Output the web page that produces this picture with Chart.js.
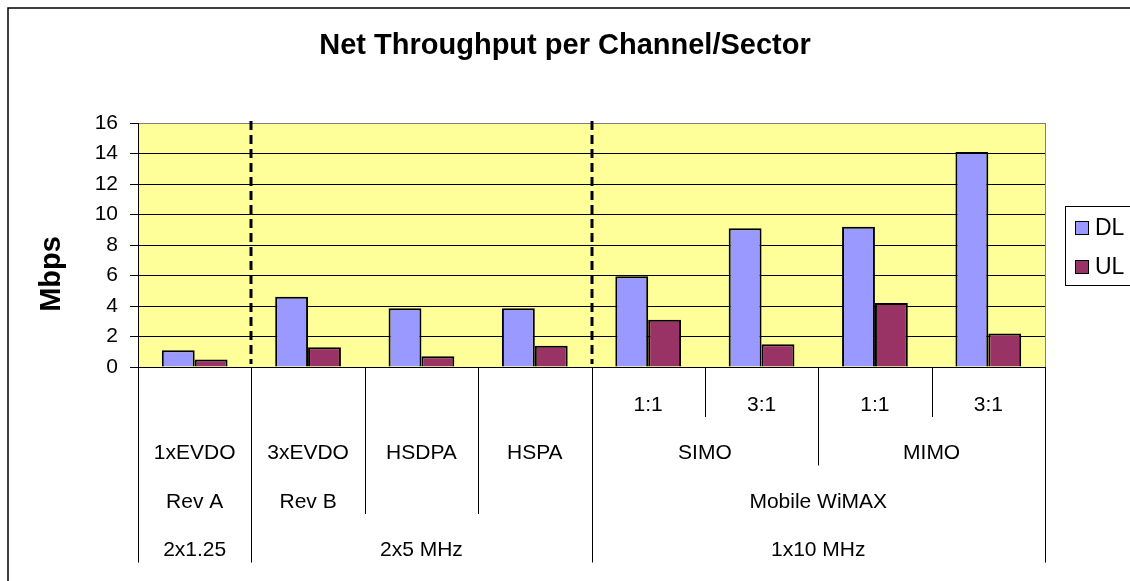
<!DOCTYPE html>
<html><head><meta charset="utf-8">
<script src="https://cdn.jsdelivr.net/npm/chart.js@4"></script>
<style>html,body{margin:0;padding:0;background:#fff;overflow:hidden}</style>
</head><body>
<canvas id="c" width="1130" height="581"></canvas>
<script>
const categories = ['1xEVDO Rev A','3xEVDO Rev B','HSDPA','HSPA','SIMO 1:1','SIMO 3:1','MIMO 1:1','MIMO 3:1'];
const dlValues = [1.1, 4.6, 3.85, 3.85, 5.95, 9.1, 9.2, 14.1];
const ulValues = [0.5, 1.3, 0.7, 1.4, 3.1, 1.5, 4.2, 2.2];
const seriesNames = ['DL', 'UL'];
const yMin = 0, yMax = 16, yStep = 2;
// multi-level category labels: [label, span]
const ratioGroups = [['',1],['',1],['',1],['',1],['1:1',1],['3:1',1],['1:1',1],['3:1',1]];
const techGroups = [['1xEVDO',1],['3xEVDO',1],['HSDPA',1],['HSPA',1],['SIMO',2],['MIMO',2]];
const revGroups = [['Rev A',1],['Rev B',1],['',1],['',1],['Mobile WiMAX',4]];
const bandGroups = [['2x1.25',1],['2x5 MHz',3],['1x10 MHz',4]];
const dashedAfter = [0, 3];

const FONT = "'Liberation Sans', Arial, sans-serif";
const levels = [ratioGroups, techGroups, revGroups, bandGroups];

const customPlugin = {
  id: 'custom',
  beforeDraw(chart) {
    const {ctx, chartArea: a} = chart;
    ctx.save();
    ctx.fillStyle = '#fff';
    ctx.fillRect(0, 0, chart.width, chart.height);
    ctx.fillStyle = '#FFFF99';
    ctx.fillRect(a.left, a.top, a.right - a.left, a.bottom - a.top);
    ctx.strokeStyle = '#000';
    ctx.lineWidth = 1.5;
    ctx.strokeRect(8, 8, 1400, 900);
    ctx.restore();
  },
  afterDraw(chart) {
    const {ctx, chartArea: a} = chart;
    const n = categories.length;
    const w = (a.right - a.left) / n;
    ctx.save();
    // plot right border
    ctx.strokeStyle = '#808080';
    ctx.lineWidth = 1;
    ctx.beginPath();
    ctx.moveTo(a.right + 0.5, a.top);
    ctx.lineTo(a.right + 0.5, a.bottom);
    ctx.stroke();
    // dashed dividers
    ctx.strokeStyle = '#000';
    ctx.lineWidth = 3;
    ctx.setLineDash([9, 5]);
    dashedAfter.forEach(i => {
      const x = Math.round(a.left + (i + 1) * w);
      ctx.beginPath();
      ctx.moveTo(x, a.top - 2);
      ctx.lineTo(x, a.bottom - 3);
      ctx.stroke();
    });
    ctx.setLineDash([]);
    // category label rows
    const rowBottoms = [a.bottom + 50, a.bottom + 98.5, a.bottom + 147, a.bottom + 195.5];
    const depth = new Array(n + 1).fill(0);
    levels.forEach((groups, li) => {
      let c = 0;
      depth[0] = li;
      groups.forEach(g => { c += g[1]; depth[c] = Math.max(depth[c], li); });
    });
    ctx.strokeStyle = '#000';
    ctx.lineWidth = 1;
    for (let b = 0; b <= n; b++) {
      const x = Math.round(a.left + b * w) + 0.5;
      ctx.beginPath();
      ctx.moveTo(x, a.bottom);
      ctx.lineTo(x, rowBottoms[depth[b]]);
      ctx.stroke();
    }
    ctx.fillStyle = '#000';
    ctx.font = '21px ' + FONT;
    ctx.textAlign = 'center';
    ctx.textBaseline = 'middle';
    levels.forEach((groups, li) => {
      let c = 0;
      groups.forEach(g => {
        const x = a.left + (c + g[1] / 2) * w;
        if (g[0]) ctx.fillText(g[0], x, rowBottoms[li] - 12);
        c += g[1];
      });
    });
    // y axis title
    ctx.save();
    ctx.translate(52, 274);
    ctx.rotate(-Math.PI / 2);
    ctx.font = 'bold 29px ' + FONT;
    ctx.fillText('Mbps', 0, 0);
    ctx.restore();
    // legend
    const lx = 1065.5, ly = 206.5;
    ctx.strokeStyle = '#000';
    ctx.lineWidth = 1;
    ctx.strokeRect(lx, ly, 100, 79);
    ctx.font = '23px ' + FONT;
    ctx.textAlign = 'left';
    chart.data.datasets.forEach((ds, i) => {
      const cy = 227.5 + i * 39;
      ctx.fillStyle = ds.backgroundColor;
      ctx.fillRect(1075, cy - 6.5, 13, 13);
      ctx.strokeRect(1075.5, cy - 6, 13, 13);
      ctx.fillStyle = '#000';
      ctx.fillText(ds.label, 1095, cy + 1);
    });
    ctx.restore();
  }
};

new Chart(document.getElementById('c'), {
  type: 'bar',
  data: {
    labels: categories,
    datasets: [
      {label: seriesNames[0], data: dlValues, backgroundColor: '#9999FF', borderColor: '#000', borderWidth: 2, categoryPercentage: 0.58, barPercentage: 1},
      {label: seriesNames[1], data: ulValues, backgroundColor: '#993366', borderColor: '#000', borderWidth: 2, categoryPercentage: 0.58, barPercentage: 1}
    ]
  },
  options: {
    responsive: false,
    animation: false,
    devicePixelRatio: 1,
    layout: {padding: {left: 0, right: 0, top: 0, bottom: 214}},
    plugins: {
      legend: {display: false},
      tooltip: {enabled: false},
      title: {
        display: true,
        text: 'Net Throughput per Channel/Sector',
        color: '#000',
        font: {family: FONT, size: 29, weight: 'bold', lineHeight: 1.2},
        padding: {top: 29, bottom: 59.2}
      }
    },
    scales: {
      x: {display: false},
      y: {
        min: yMin, max: yMax,
        ticks: {stepSize: yStep, color: '#000', font: {family: FONT, size: 21}, padding: 12},
        grid: {
          color: c => (c.tick && c.tick.value === yMax) ? '#808080' : '#000',
          tickColor: '#000', tickLength: 8, lineWidth: 1
        },
        border: {color: '#000', width: 1},
        afterFit(s) { s.width = 138; }
      },
      yr: {
        position: 'right', display: true,
        grid: {display: false}, ticks: {display: false}, border: {display: false},
        afterFit(s) { s.width = 85; }
      }
    }
  },
  plugins: [customPlugin]
});
</script>
</body></html>
